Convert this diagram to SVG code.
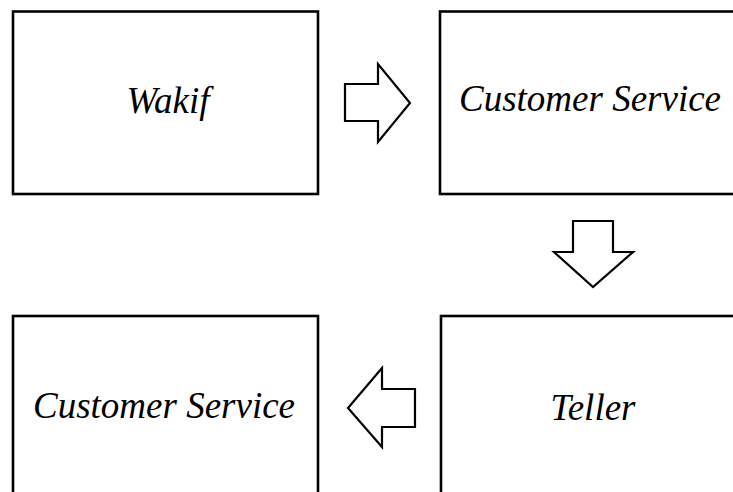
<svg xmlns="http://www.w3.org/2000/svg" width="733" height="492" viewBox="0 0 733 492">
<style>
.box{fill:#fff;stroke:#000;stroke-width:2.6}
.arr{fill:#fff;stroke:#000;stroke-width:2.2;stroke-linejoin:miter}
.lbl{font-style:italic;font-size:37px;fill:#000;text-anchor:middle}
</style>
<rect width="733" height="492" fill="#fff"/>
<g font-family="Liberation Serif, serif">
<g id="node-wakif">
<rect class="box" x="13" y="11.5" width="305" height="182.5"/>
<text class="lbl" x="168" y="113">Wakif</text>
</g>
<g id="node-cs1">
<rect class="box" x="440" y="11.5" width="300" height="182.5"/>
<text class="lbl" x="590" y="111">Customer Service</text>
</g>
<g id="node-teller">
<rect class="box" x="441" y="316" width="300" height="190"/>
<text class="lbl" x="593" y="420">Teller</text>
</g>
<g id="node-cs2">
<rect class="box" x="13" y="316" width="305" height="190"/>
<text class="lbl" x="164" y="418">Customer Service</text>
</g>
</g>
<g id="connectors">
<polygon class="arr" points="345,84 378,84 378,64 410,103 378,142 378,121 345,121"/>
<polygon class="arr" points="573,221 613,221 613,252 633,252 593,287 554,252 573,252"/>
<polygon class="arr" points="415,389 382,389 382,368 348,408 382,447 382,427 415,427"/>
</g>
</svg>
